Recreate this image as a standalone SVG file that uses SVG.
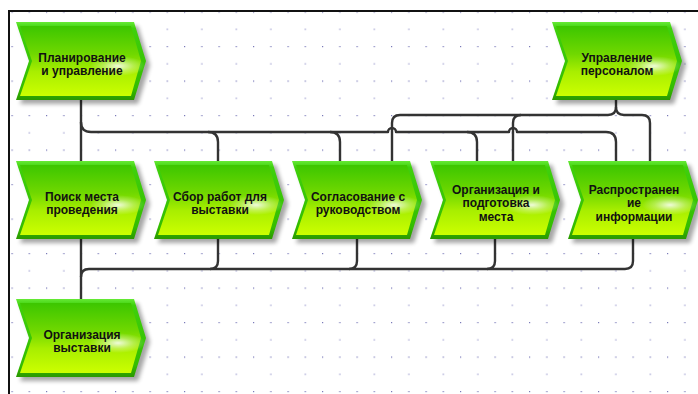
<svg xmlns="http://www.w3.org/2000/svg" width="698" height="394" viewBox="0 0 698 394">
  <style>
    .lbl { font-family: "Liberation Sans", "DejaVu Sans", Arial, sans-serif; font-size: 12px; font-weight: bold; fill: #111; text-anchor: middle; }
    .wire { fill: none; stroke: #333; stroke-width: 2.4; stroke-linecap: butt; stroke-linejoin: round; }
    .frame { fill: none; stroke: #111; stroke-width: 2; }
  </style>
  <defs>
    <pattern id="grid" x="11.5" y="11.5" width="34.5" height="34.5" patternUnits="userSpaceOnUse">
      <rect x="0" y="0" width="1.2" height="1.2" fill="#7878b8"/>
      <rect x="17.25" y="0" width="1.2" height="1.2" fill="#7878b8"/>
      <rect x="17.25" y="17.25" width="1.2" height="1.2" fill="#9090c8"/>
    </pattern>
    <linearGradient id="rim" x1="0" y1="0" x2="0" y2="1">
      <stop offset="0" stop-color="#66ea36"/>
      <stop offset="0.08" stop-color="#3fd00c"/>
      <stop offset="0.85" stop-color="#34bd00"/>
      <stop offset="1" stop-color="#2a9800"/>
    </linearGradient>
    <linearGradient id="body" x1="0" y1="0" x2="0" y2="1">
      <stop offset="0" stop-color="#3cc600"/>
      <stop offset="0.4" stop-color="#70d800"/>
      <stop offset="0.65" stop-color="#a8ee00"/>
      <stop offset="1" stop-color="#ccff00"/>
    </linearGradient>
    <radialGradient id="gloss" cx="0.5" cy="0.5" r="0.5">
      <stop offset="0" stop-color="#ffffff" stop-opacity="0.85"/>
      <stop offset="0.55" stop-color="#ffffff" stop-opacity="0.3"/>
      <stop offset="1" stop-color="#ffffff" stop-opacity="0"/>
    </radialGradient>
    <filter id="soft" x="-10%" y="-10%" width="130%" height="140%">
      <feGaussianBlur stdDeviation="2.2"/>
    </filter>
    <!-- chevron outline shared by all process steps -->
    <polygon id="chev" points="0,0 118,0 130,39 118,78 0,78 13,39"/>
    <polygon id="chevIn" points="4,4 115,4 125,39 115,74 4,74 16,39"/>
    <g id="step">
      <use href="#chev" transform="translate(4,4)" fill="#000" opacity="0.35" filter="url(#soft)"/>
      <use href="#chev" fill="url(#rim)"/>
      <use href="#chevIn" fill="url(#body)"/>
      <ellipse cx="102" cy="44" rx="28" ry="10" fill="url(#gloss)"/>
    </g>
  </defs>

  <!-- sheet background with dotted grid -->
  <rect x="0" y="0" width="698" height="394" fill="#ffffff"/>
  <rect x="9" y="11" width="689" height="383" fill="url(#grid)"/>
  <path class="frame" d="M9,394 V11 H698"/>

  <!-- connectors -->
  <g id="connectors">
    <!-- from Планирование и управление -->
    <path class="wire" d="M81,100 V161"/>
    <path class="wire" d="M81,122 Q81,132 91,132 H388 a4,4 0 0 1 8,0 H509 a4,4 0 0 1 8,0 H606 Q616,132 616,142 V161"/>
    <path class="wire" d="M208,132 Q218,132 218,142 V161"/>
    <path class="wire" d="M330,132 Q340,132 340,142 V161"/>
    <path class="wire" d="M467,132 Q477,132 477,142 V161"/>
    <!-- from Управление персоналом -->
    <path class="wire" d="M616,100 V107 Q616,115 608,115 H400 Q392,115 392,123 V161"/>
    <path class="wire" d="M616,107 Q616,115 624,115 H642 Q650,115 650,123 V161"/>
    <path class="wire" d="M521,115 Q513,115 513,123 V161"/>
    <!-- into Организация выставки -->
    <path class="wire" d="M81,239 V299"/>
    <path class="wire" d="M633,239 V261 Q633,269 625,269 H89 Q81,269 81,277"/>
    <path class="wire" d="M218,239 V261 Q218,269 210,269"/>
    <path class="wire" d="M357,239 V261 Q357,269 349,269"/>
    <path class="wire" d="M495,239 V261 Q495,269 487,269"/>
  </g>

  <g id="planning" transform="translate(16,22)">
    <use href="#step"/>
    <text class="lbl" x="66" y="40">Планирование</text>
    <text class="lbl" x="66" y="53">и управление</text>
  </g>

  <g id="staff" transform="translate(552,22)">
    <use href="#step"/>
    <text class="lbl" x="65" y="40">Управление</text>
    <text class="lbl" x="65" y="53">персоналом</text>
  </g>

  <g id="venue" transform="translate(16,161)">
    <use href="#step"/>
    <text class="lbl" x="66" y="39.5">Поиск места</text>
    <text class="lbl" x="66" y="53">проведения</text>
  </g>

  <g id="collect" transform="translate(154,161)">
    <use href="#step"/>
    <text class="lbl" x="66" y="39.5">Сбор работ для</text>
    <text class="lbl" x="66" y="53">выставки</text>
  </g>

  <g id="approval" transform="translate(292,161)">
    <use href="#step"/>
    <text class="lbl" x="66" y="39.5">Согласование с</text>
    <text class="lbl" x="66" y="53">руководством</text>
  </g>

  <g id="prepare" transform="translate(430,161)">
    <use href="#step"/>
    <text class="lbl" x="66" y="32.5">Организация и</text>
    <text class="lbl" x="66" y="46">подготовка</text>
    <text class="lbl" x="66" y="59.5">места</text>
  </g>

  <g id="publicity" transform="translate(568,161)">
    <use href="#step"/>
    <text class="lbl" x="66" y="32.5">Распространен</text>
    <text class="lbl" x="66" y="46">ие</text>
    <text class="lbl" x="66" y="59.5">информации</text>
  </g>

  <g id="exhibition" transform="translate(16,299)">
    <use href="#step"/>
    <text class="lbl" x="66" y="39.5">Организация</text>
    <text class="lbl" x="66" y="53">выставки</text>
  </g>
</svg>
